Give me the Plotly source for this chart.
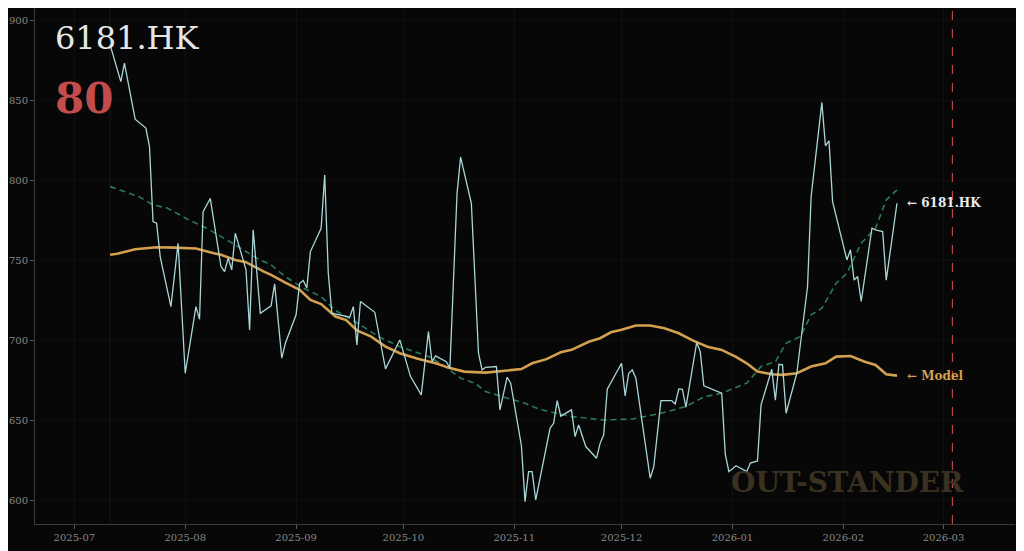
import plotly.graph_objects as go

# ---------------- data ----------------
price_dates = [
    "2025-07-11", "2025-07-14", "2025-07-15", "2025-07-18", "2025-07-21", "2025-07-22", "2025-07-23",
    "2025-07-24", "2025-07-25", "2025-07-28", "2025-07-30", "2025-08-01", "2025-08-04", "2025-08-05",
    "2025-08-06", "2025-08-08", "2025-08-11", "2025-08-12", "2025-08-13", "2025-08-14", "2025-08-15",
    "2025-08-18", "2025-08-19", "2025-08-20", "2025-08-22", "2025-08-25", "2025-08-26", "2025-08-28",
    "2025-08-29", "2025-09-01", "2025-09-02", "2025-09-03", "2025-09-04", "2025-09-05", "2025-09-08",
    "2025-09-09", "2025-09-10", "2025-09-11", "2025-09-16", "2025-09-17", "2025-09-18", "2025-09-19",
    "2025-09-23", "2025-09-26", "2025-09-30", "2025-10-03", "2025-10-06", "2025-10-08", "2025-10-09",
    "2025-10-10", "2025-10-13", "2025-10-14", "2025-10-16", "2025-10-17", "2025-10-20", "2025-10-22",
    "2025-10-23", "2025-10-24", "2025-10-27", "2025-10-28", "2025-10-30", "2025-10-31", "2025-11-03",
    "2025-11-04", "2025-11-05", "2025-11-06", "2025-11-07", "2025-11-11", "2025-11-12", "2025-11-13",
    "2025-11-14", "2025-11-17", "2025-11-18", "2025-11-19", "2025-11-21", "2025-11-24", "2025-11-25",
    "2025-11-26", "2025-11-27", "2025-12-01", "2025-12-02", "2025-12-03", "2025-12-04", "2025-12-05",
    "2025-12-09", "2025-12-10", "2025-12-12", "2025-12-15", "2025-12-16", "2025-12-17", "2025-12-18",
    "2025-12-19", "2025-12-22", "2025-12-23", "2025-12-24", "2025-12-29", "2025-12-30", "2025-12-31",
    "2026-01-02", "2026-01-05", "2026-01-06", "2026-01-08", "2026-01-09", "2026-01-12", "2026-01-13",
    "2026-01-14", "2026-01-15", "2026-01-16", "2026-01-19", "2026-01-20", "2026-01-22", "2026-01-23",
    "2026-01-26", "2026-01-27", "2026-01-28", "2026-01-29", "2026-02-02", "2026-02-03", "2026-02-04",
    "2026-02-05", "2026-02-06", "2026-02-09", "2026-02-10", "2026-02-12", "2026-02-13", "2026-02-16",
]
price_values = [
    885, 862, 873.5, 838.5, 833, 821.5, 774.5,
    773.5, 752.7, 721.4, 761, 679.8, 721.4, 713.5,
    780.8, 789, 746.5, 743.3, 751.7, 744.4, 767.3,
    744.4, 706.9, 769.4, 717.3, 721.9, 735.6, 689.2,
    698.5, 716.3, 736, 737.7, 733, 755.8, 770.4,
    803.7, 742.3, 717.3, 714.8, 721.4, 697.5, 724.6,
    717.9, 682.5, 700.6, 677.7, 666.3, 705.8, 687,
    690.6, 687, 683, 792.3, 814.8, 786, 692.3,
    681.9, 683.5, 684, 656.9, 677.3, 673.6, 634.5,
    599.6, 618.3, 618.3, 600.6, 645.4, 648.5, 662.7,
    653, 656.9, 640.2, 647.5, 634, 626.7, 636,
    641.3, 669.8, 686, 665.6, 679.8, 681.9, 676.7,
    614.2, 621.4, 662.7, 662.7, 660.6, 670, 669.8,
    658.6, 699, 693.3, 671.9, 667.3, 629.3, 618.3,
    622, 618.3, 623.7, 625, 660, 682.3, 663,
    685.4, 685, 654.8, 679.8, 698.5, 734, 790.2,
    849, 821.9, 825, 787, 750.6, 756.9, 738,
    740.2, 724.6, 770.4, 769.4, 768.3, 738, 786,
]

ma_dates = [
    "2025-07-11", "2025-07-19", "2025-07-23", "2025-07-27", "2025-08-02", "2025-08-07", "2025-08-15",
    "2025-08-21", "2025-08-25", "2025-08-29", "2025-09-03", "2025-09-08", "2025-09-12", "2025-09-19",
    "2025-09-24", "2025-09-30", "2025-10-08", "2025-10-12", "2025-10-17", "2025-10-21", "2025-10-24",
    "2025-10-30", "2025-11-04", "2025-11-08", "2025-11-17", "2025-11-26", "2025-12-04", "2025-12-12",
    "2025-12-19", "2025-12-24", "2025-12-29", "2026-01-05", "2026-01-09", "2026-01-13", "2026-01-16",
    "2026-01-20", "2026-01-23", "2026-01-26", "2026-01-30", "2026-02-02", "2026-02-06", "2026-02-10",
    "2026-02-13", "2026-02-16",
]
ma_values = [
    796.4, 790.2, 785, 783, 775.6, 770.4, 760,
    751.7, 747.5, 740.2, 733, 727.7, 719, 710,
    702.7, 696.4, 690.2, 685, 676.7, 673.6, 668.3,
    664.2, 661, 657.3, 652.7, 650.6, 651.2, 654.8,
    659, 665, 667.3, 673.6, 684, 687, 698.5,
    702.7, 716.3, 720.4, 736, 742.3, 761, 770.4,
    788, 794.4,
]

model_dates = [
    "2025-07-11", "2025-07-13", "2025-07-18", "2025-07-24", "2025-07-29", "2025-08-04", "2025-08-09",
    "2025-08-11", "2025-08-15", "2025-08-18", "2025-08-23", "2025-08-25", "2025-08-29", "2025-09-02",
    "2025-09-05", "2025-09-08", "2025-09-12", "2025-09-15", "2025-09-18", "2025-09-22", "2025-09-26",
    "2025-09-30", "2025-10-05", "2025-10-10", "2025-10-14", "2025-10-18", "2025-10-24", "2025-10-29",
    "2025-11-03", "2025-11-06", "2025-11-10", "2025-11-14", "2025-11-17", "2025-11-22", "2025-11-25",
    "2025-11-28", "2025-12-01", "2025-12-05", "2025-12-09", "2025-12-13", "2025-12-17", "2025-12-21",
    "2025-12-25", "2025-12-29", "2026-01-02", "2026-01-05", "2026-01-08", "2026-01-12", "2026-01-15",
    "2026-01-19", "2026-01-23", "2026-01-27", "2026-01-30", "2026-02-03", "2026-02-07", "2026-02-10",
    "2026-02-13", "2026-02-16",
]
model_values = [
    753.8, 754.4, 757.3, 758.5, 758.3, 757.7, 754.8,
    753.8, 750.6, 749.2, 743.3, 741.3, 736.4, 731.9,
    725.6, 723, 715.2, 713, 706.5, 702.7, 696.4,
    692.3, 688.8, 686, 683, 680.8, 680.2, 681.3,
    682.4, 686, 688.6, 692.9, 694.4, 699.6, 701.7,
    705.4, 706.9, 709.6, 709.6, 707.9, 704.8, 700.2,
    696.4, 694.4, 690, 686, 680.8, 679.2, 678.8,
    679.8, 684, 686, 690.2, 690.6, 687, 685,
    679.2, 678.3,
]

ticker = "6181.HK"
score = "80"
watermark = "OUT-STANDER"
event_date = "2026-03-03 12:00"
y_ticks = [600, 650, 700, 750, 800, 850, 900]
x_range = ["2025-06-20", "2026-03-21"]
y_range = [585.6, 908]

# ---------------- style ----------------
BG = "#070707"
SERIF = "DejaVu Serif"
PRICE_C = "#a9d6d6"
MA_C = "#2b7a5a"
MODEL_C = "#d4a04f"

fig = go.Figure()
fig.add_trace(go.Scatter(x=ma_dates, y=ma_values, mode="lines",
                         line=dict(color=MA_C, width=1.6, dash="6px,4px"),
                         hoverinfo="skip", showlegend=False))
fig.add_trace(go.Scatter(x=model_dates, y=model_values, mode="lines",
                         line=dict(color=MODEL_C, width=2.6),
                         showlegend=False))
fig.add_trace(go.Scatter(x=price_dates, y=price_values, mode="lines",
                         line=dict(color=PRICE_C, width=1.3),
                         showlegend=False))

# data-start faint line and event dashed line
fig.add_vline(x=price_dates[0], line=dict(color="#181818", width=1), layer="below")
fig.add_vline(x=event_date, line=dict(color="#b84545", width=1.2, dash="dash"))

# Titles
fig.add_annotation(text=ticker, xref="paper", yref="paper", x=0.018, y=0.982,
                   xanchor="left", yanchor="top", showarrow=False,
                   font=dict(family=SERIF, size=32, color="#e6e6e6"))
fig.add_annotation(text=f"<b>{score}</b>", xref="paper", yref="paper", x=0.018, y=0.876,
                   xanchor="left", yanchor="top", showarrow=False,
                   font=dict(family=SERIF, size=42, color="#c24c4c"))
# end labels
fig.add_annotation(text=f"<b>← {ticker}</b>", x=price_dates[-1], y=price_values[-1],
                   xanchor="left", yanchor="middle", xshift=8, showarrow=False,
                   font=dict(family=SERIF, size=12, color="#ececec"))
fig.add_annotation(text="<b>← Model</b>", x=model_dates[-1], y=model_values[-1],
                   xanchor="left", yanchor="middle", xshift=8, showarrow=False,
                   font=dict(family=SERIF, size=12, color=MODEL_C))
# watermark
fig.add_annotation(text=f"<b>{watermark}</b>", xref="paper", yref="paper", x=0.829, y=0.08,
                   xanchor="center", yanchor="middle", showarrow=False,
                   font=dict(family=SERIF, size=28, color="#3a3121"))

fig.update_layout(
    width=1024, height=551,
    paper_bgcolor=BG, plot_bgcolor=BG,
    margin=dict(l=27, r=17, t=0, b=35, autoexpand=False),
    font=dict(family=SERIF, color="#8a8a8a", size=10),
    showlegend=False,
    xaxis=dict(range=x_range, type="date", dtick="M1", tickformat="%Y-%m",
               automargin=False,
               showgrid=True, gridcolor="#0f0f0f", gridwidth=1,
               showline=True, linecolor="#3a3a3a", linewidth=1,
               ticks="outside", tickcolor="#5a5a5a", ticklen=4,
               tickfont=dict(family=SERIF, size=10, color="#888888"),
               zeroline=False),
    yaxis=dict(range=y_range, tickvals=y_ticks,
               automargin=False,
               showgrid=True, gridcolor="#0f0f0f", gridwidth=1,
               showline=True, linecolor="#3a3a3a", linewidth=1,
               ticks="outside", tickcolor="#5a5a5a", ticklen=4,
               tickfont=dict(family=SERIF, size=10, color="#888888"),
               zeroline=False),
)

fig.write_html("out.html")
